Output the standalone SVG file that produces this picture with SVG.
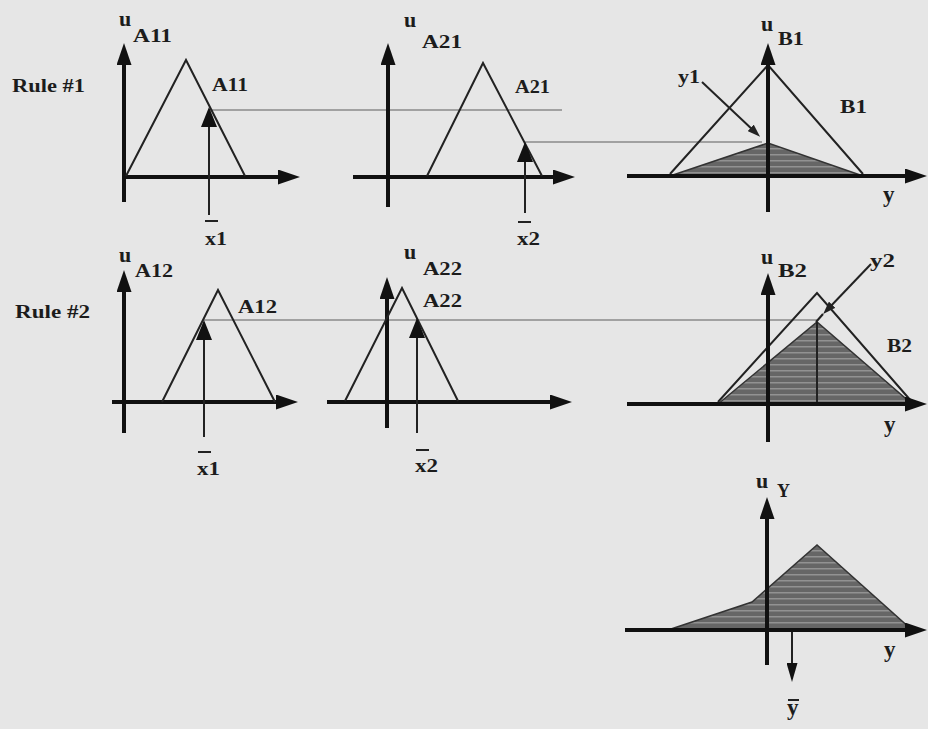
<svg xmlns="http://www.w3.org/2000/svg" width="928" height="729" viewBox="0 0 928 729">
<style>
.bg{fill:#e6e6e6}
.ax{stroke:#111;stroke-width:4;fill:none}
.tri{stroke:#222;stroke-width:2;fill:none}
.pt{stroke:#222;stroke-width:2;fill:none}
.thin{stroke:#8a8a8a;stroke-width:1.5;fill:none}
.sh{fill:url(#hatch);stroke:#333;stroke-width:1.5}
.bar{stroke:#222;stroke-width:2}
text{font-family:"Liberation Serif","Times New Roman",serif;fill:#1c1c1c;font-weight:bold}
.u{font-size:22px}
.sub{font-size:19px}
.lb{font-size:19px}
.yl{font-size:23px}
</style>
<defs>
<pattern id="hatch" patternUnits="userSpaceOnUse" width="8" height="6">
<rect width="8" height="6" fill="#666"/>
<rect y="4" width="8" height="1.5" fill="#929292"/>
</pattern>
<marker id="axh" markerUnits="userSpaceOnUse" markerWidth="22" markerHeight="15" refX="10" refY="7.5" orient="auto">
<path d="M0,0 L22,7.5 L0,15 z" fill="#111"/>
</marker>
<marker id="pth" markerUnits="userSpaceOnUse" markerWidth="20" markerHeight="16" refX="8" refY="8" orient="auto">
<path d="M0,0 L20,8 L0,16 z" fill="#111"/>
</marker>
<marker id="smh" markerUnits="userSpaceOnUse" markerWidth="13" markerHeight="9" refX="6" refY="4.5" orient="auto">
<path d="M0,0 L13,4.5 L0,9 z" fill="#222"/>
</marker>
<marker id="ybh" markerUnits="userSpaceOnUse" markerWidth="19" markerHeight="11" refX="8" refY="5.5" orient="auto">
<path d="M0,0 L19,5.5 L0,11 z" fill="#111"/>
</marker>
</defs>
<rect class="bg" x="0" y="0" width="928" height="729"/>

<g id="connectors">
<line class="thin" x1="209" y1="110" x2="562" y2="110"/>
<line class="thin" x1="525" y1="142" x2="762" y2="142"/>
<line class="thin" x1="204" y1="320" x2="817" y2="320"/>
</g>

<g id="label-rule1"><text class="lb" x="12" y="92" textLength="73" lengthAdjust="spacingAndGlyphs">Rule #1</text></g>
<g id="label-rule2"><text class="lb" x="15" y="318" textLength="75" lengthAdjust="spacingAndGlyphs">Rule #2</text></g>

<g id="panel-A11">
<line class="ax" x1="124" y1="202" x2="124" y2="55" marker-end="url(#axh)"/>
<line class="ax" x1="125" y1="177" x2="288" y2="177" marker-end="url(#axh)"/>
<polyline class="tri" points="126,176 186,60 245,176"/>
<line class="pt" x1="209" y1="215" x2="209" y2="119" marker-end="url(#pth)"/>
<text class="u" x="119" y="26">u</text>
<text class="sub" x="133" y="42" textLength="39" lengthAdjust="spacingAndGlyphs">A11</text>
<text class="lb" x="212" y="91" textLength="36" lengthAdjust="spacingAndGlyphs">A11</text>
<line class="bar" x1="205" y1="221" x2="218" y2="221"/>
<text class="lb" x="205" y="245" textLength="22" lengthAdjust="spacingAndGlyphs">x1</text>
</g>

<g id="panel-A21">
<line class="ax" x1="388" y1="207" x2="388" y2="55" marker-end="url(#axh)"/>
<line class="ax" x1="353" y1="177" x2="563" y2="177" marker-end="url(#axh)"/>
<polyline class="tri" points="427,176 483,63 542,176"/>
<line class="pt" x1="525" y1="213" x2="525" y2="154" marker-end="url(#pth)"/>
<text class="u" x="404" y="27">u</text>
<text class="sub" x="422" y="48" textLength="40" lengthAdjust="spacingAndGlyphs">A21</text>
<text class="lb" x="515" y="93" textLength="35" lengthAdjust="spacingAndGlyphs">A21</text>
<line class="bar" x1="518" y1="222" x2="531" y2="222"/>
<text class="lb" x="517" y="245" textLength="23" lengthAdjust="spacingAndGlyphs">x2</text>
</g>

<g id="panel-B1">
<polygon class="sh" points="670,176 768,143 863,176"/>
<polyline class="tri" points="670,174 768,65 863,174"/>
<line class="ax" x1="768" y1="212" x2="768" y2="55" marker-end="url(#axh)"/>
<line class="ax" x1="627" y1="176" x2="915" y2="176" marker-end="url(#axh)"/>
<line class="pt" x1="702" y1="82" x2="755" y2="132" marker-end="url(#smh)"/>
<text class="u" x="761" y="31">u</text>
<text class="sub" x="778" y="45" textLength="26" lengthAdjust="spacingAndGlyphs">B1</text>
<text class="lb" x="678" y="83" textLength="22" lengthAdjust="spacingAndGlyphs">y1</text>
<text class="lb" x="840" y="113" textLength="27" lengthAdjust="spacingAndGlyphs">B1</text>
<text class="yl" x="883" y="202">y</text>
</g>

<g id="panel-A12">
<line class="ax" x1="124" y1="433" x2="124" y2="282" marker-end="url(#axh)"/>
<line class="ax" x1="112" y1="402" x2="286" y2="402" marker-end="url(#axh)"/>
<polyline class="tri" points="162,402 218,290 275,402"/>
<line class="pt" x1="204" y1="437" x2="204" y2="332" marker-end="url(#pth)"/>
<text class="u" x="119" y="262">u</text>
<text class="sub" x="135" y="277" textLength="38" lengthAdjust="spacingAndGlyphs">A12</text>
<text class="lb" x="238" y="313" textLength="39" lengthAdjust="spacingAndGlyphs">A12</text>
<line class="bar" x1="198" y1="452" x2="211" y2="452"/>
<text class="lb" x="197" y="475" textLength="23" lengthAdjust="spacingAndGlyphs">x1</text>
</g>

<g id="panel-A22">
<line class="ax" x1="387" y1="428" x2="387" y2="289" marker-end="url(#axh)"/>
<line class="ax" x1="327" y1="402" x2="560" y2="402" marker-end="url(#axh)"/>
<polyline class="tri" points="345,401 402,288 458,401"/>
<line class="pt" x1="417" y1="433" x2="417" y2="330" marker-end="url(#pth)"/>
<text class="u" x="404" y="259">u</text>
<text class="sub" x="423" y="275" textLength="39" lengthAdjust="spacingAndGlyphs">A22</text>
<text class="lb" x="423" y="307" textLength="39" lengthAdjust="spacingAndGlyphs">A22</text>
<line class="bar" x1="416" y1="450" x2="429" y2="450"/>
<text class="lb" x="415" y="472" textLength="23" lengthAdjust="spacingAndGlyphs">x2</text>
</g>

<g id="panel-B2">
<polygon class="sh" points="718,404 817,322 912,404"/>
<polyline class="tri" points="718,402 817,293 912,402"/>
<line class="pt" x1="817" y1="322" x2="817" y2="404"/>
<line class="ax" x1="768" y1="442" x2="768" y2="285" marker-end="url(#axh)"/>
<line class="ax" x1="627" y1="404" x2="915" y2="404" marker-end="url(#axh)"/>
<line class="pt" x1="871" y1="264" x2="828" y2="309" marker-end="url(#smh)"/>
<line class="pt" x1="823" y1="314" x2="816" y2="322"/>
<text class="u" x="761" y="264">u</text>
<text class="sub" x="778" y="277" textLength="29" lengthAdjust="spacingAndGlyphs">B2</text>
<text class="lb" x="870" y="267" textLength="25" lengthAdjust="spacingAndGlyphs">y2</text>
<text class="lb" x="887" y="352" textLength="25" lengthAdjust="spacingAndGlyphs">B2</text>
<text class="yl" x="884" y="432">y</text>
</g>

<g id="panel-Y">
<polygon class="sh" points="668,630 752,602 817,545 912,630"/>
<line class="ax" x1="767" y1="665" x2="767" y2="509" marker-end="url(#axh)"/>
<line class="ax" x1="625" y1="630" x2="915" y2="630" marker-end="url(#axh)"/>
<line class="pt" x1="792" y1="632" x2="792" y2="671" marker-end="url(#ybh)"/>
<text class="u" x="756" y="488">u</text>
<text class="sub" x="777" y="497" textLength="13" lengthAdjust="spacingAndGlyphs">Y</text>
<text class="yl" x="884" y="657">y</text>
<line class="bar" x1="788" y1="700" x2="799" y2="700"/>
<text class="yl" x="787" y="715">y</text>
</g>
</svg>
